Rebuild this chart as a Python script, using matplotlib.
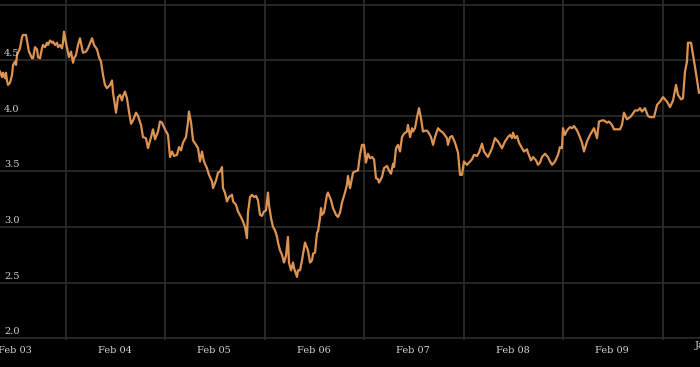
import matplotlib
matplotlib.use("Agg")
import matplotlib.pyplot as plt

# decimal-year dates and values
dates = [
    2002.934, 2002.954, 2002.964, 2002.984, 2002.994, 2003.004, 2003.014, 2003.035, 2003.055, 2003.065,
    2003.085, 2003.095, 2003.105, 2003.115, 2003.135, 2003.155, 2003.165, 2003.195, 2003.205, 2003.225,
    2003.256, 2003.266, 2003.286, 2003.306, 2003.316, 2003.336, 2003.356, 2003.366, 2003.386, 2003.406,
    2003.416, 2003.437, 2003.457, 2003.467, 2003.487, 2003.507, 2003.517, 2003.537, 2003.557, 2003.567,
    2003.577, 2003.597, 2003.617, 2003.627, 2003.648, 2003.668, 2003.678, 2003.698, 2003.718, 2003.738,
    2003.758, 2003.768, 2003.798, 2003.818, 2003.849, 2003.859, 2003.879, 2003.909, 2003.929, 2003.949,
    2003.969, 2003.989, 2004.009, 2004.040, 2004.060, 2004.070, 2004.100, 2004.120, 2004.140, 2004.160,
    2004.170, 2004.190, 2004.210, 2004.230, 2004.251, 2004.271, 2004.301, 2004.321, 2004.351, 2004.371,
    2004.401, 2004.421, 2004.452, 2004.472, 2004.492, 2004.522, 2004.542, 2004.562, 2004.592, 2004.622,
    2004.643, 2004.663, 2004.683, 2004.713, 2004.733, 2004.753, 2004.773, 2004.803, 2004.823, 2004.833,
    2004.854, 2004.874,
    2004.904, 2004.924, 2004.944, 2004.964, 2004.984, 2005.014, 2005.034, 2005.065, 2005.075, 2005.105,
    2005.125, 2005.145, 2005.165, 2005.175, 2005.195, 2005.215, 2005.235, 2005.266, 2005.276, 2005.306,
    2005.326, 2005.356, 2005.376, 2005.396, 2005.416, 2005.426, 2005.447, 2005.467, 2005.487, 2005.507,
    2005.527, 2005.547, 2005.567, 2005.587, 2005.607, 2005.627, 2005.637, 2005.658, 2005.678, 2005.698,
    2005.718, 2005.728, 2005.748, 2005.768, 2005.788, 2005.808, 2005.828, 2005.838, 2005.859, 2005.879,
    2005.889, 2005.919,
    2005.929, 2005.949, 2005.969, 2005.999, 2006.029, 2006.050, 2006.070, 2006.080, 2006.100, 2006.120,
    2006.130, 2006.150, 2006.160, 2006.170, 2006.190, 2006.220, 2006.230, 2006.261, 2006.281, 2006.311,
    2006.331, 2006.351, 2006.371, 2006.401, 2006.421, 2006.431, 2006.452, 2006.472, 2006.482, 2006.502,
    2006.532, 2006.552, 2006.572, 2006.592, 2006.612, 2006.632, 2006.653, 2006.673, 2006.693, 2006.713,
    2006.733, 2006.743, 2006.773, 2006.793, 2006.823, 2006.843, 2006.864, 2006.884, 2006.894, 2006.914,
    2006.934, 2006.954, 2006.974, 2006.994,
    2007.024, 2007.034, 2007.055, 2007.075, 2007.085, 2007.105, 2007.125, 2007.145, 2007.165, 2007.185,
    2007.215, 2007.235, 2007.266, 2007.286, 2007.306, 2007.336, 2007.356, 2007.386, 2007.426, 2007.436,
    2007.457, 2007.477, 2007.507, 2007.537, 2007.557, 2007.577, 2007.597, 2007.627, 2007.647, 2007.678,
    2007.698, 2007.728, 2007.748, 2007.778, 2007.798, 2007.838, 2007.859, 2007.879, 2007.909, 2007.939,
    2007.979,
    2008.009, 2008.039, 2008.060, 2008.080, 2008.090, 2008.110, 2008.130, 2008.150, 2008.180, 2008.200,
    2008.230, 2008.240, 2008.271, 2008.291, 2008.321, 2008.341, 2008.361, 2008.381, 2008.411, 2008.441,
    2008.462, 2008.482, 2008.512, 2008.542, 2008.562, 2008.582, 2008.592, 2008.612, 2008.632, 2008.642,
    2008.663, 2008.683, 2008.703, 2008.733, 2008.753, 2008.783, 2008.803, 2008.833, 2008.864, 2008.884,
    2008.904, 2008.934, 2008.954, 2008.984,
    2009.004, 2009.034, 2009.054, 2009.084, 2009.104, 2009.135, 2009.165, 2009.185, 2009.205, 2009.235,
    2009.266, 2009.286, 2009.316, 2009.346, 2009.366, 2009.386, 2009.416, 2009.446, 2009.467, 2009.507,
    2009.537, 2009.567, 2009.597, 2009.637, 2009.668, 2009.698, 2009.728, 2009.748, 2009.778, 2009.798,
    2009.818, 2009.838, 2009.848, 2009.879, 2009.919, 2009.959,
]

values = [
    4.40, 4.35, 4.39, 4.34, 4.39, 4.32, 4.28, 4.30, 4.37, 4.46,
    4.49, 4.46, 4.55, 4.57, 4.61, 4.71, 4.73, 4.73, 4.68, 4.58,
    4.52, 4.52, 4.62, 4.60, 4.53, 4.52, 4.61, 4.64, 4.62, 4.66,
    4.64, 4.68, 4.66, 4.67, 4.64, 4.66, 4.62, 4.64, 4.61, 4.66,
    4.76, 4.66, 4.57, 4.53, 4.58, 4.48, 4.52, 4.55, 4.64, 4.70,
    4.61, 4.57, 4.58, 4.61, 4.68, 4.70, 4.64, 4.60, 4.53, 4.49,
    4.37, 4.28, 4.25, 4.28, 4.32, 4.21, 4.03, 4.17, 4.19, 4.14,
    4.18, 4.22, 4.16, 4.04, 3.93, 3.96, 4.03, 4.00, 3.92, 3.81,
    3.80, 3.71, 3.81, 3.88, 3.79, 3.86, 3.95, 3.94, 3.88, 3.83,
    3.63, 3.68, 3.64, 3.65, 3.72, 3.69, 3.76, 3.81, 3.94, 4.04,
    3.94, 3.78,
    3.74, 3.71, 3.59, 3.68, 3.59, 3.53, 3.47, 3.41, 3.35, 3.42,
    3.49, 3.50, 3.54, 3.35, 3.31, 3.23, 3.27, 3.29, 3.23, 3.20,
    3.14, 3.09, 3.05, 3.00, 2.90, 3.13, 3.27, 3.29, 3.27, 3.28,
    3.24, 3.11, 3.10, 3.14, 3.15, 3.31, 3.20, 3.08, 3.00, 2.97,
    2.91, 2.86, 2.79, 2.75, 2.68, 2.74, 2.91, 2.68, 2.61, 2.68,
    2.63, 2.55,
    2.61, 2.61, 2.70, 2.86, 2.79, 2.68, 2.70, 2.76, 2.77, 2.95,
    2.96, 3.08, 3.17, 3.11, 3.13, 3.29, 3.31, 3.24, 3.17, 3.11,
    3.09, 3.13, 3.22, 3.31, 3.38, 3.46, 3.35, 3.44, 3.49, 3.50,
    3.51, 3.65, 3.74, 3.74, 3.58, 3.66, 3.62, 3.63, 3.61, 3.44,
    3.43, 3.40, 3.45, 3.53, 3.55, 3.51, 3.48, 3.57, 3.54, 3.71,
    3.74, 3.68, 3.81, 3.84,
    3.86, 3.92, 3.81, 3.89, 3.86, 3.89, 3.99, 4.07, 3.98, 3.86,
    3.87, 3.86, 3.81, 3.74, 3.81, 3.89, 3.87, 3.85, 3.80, 3.74,
    3.81, 3.82, 3.76, 3.67, 3.47, 3.47, 3.59, 3.56, 3.58, 3.61,
    3.65, 3.64, 3.67, 3.75, 3.68, 3.63, 3.67, 3.71, 3.80, 3.77,
    3.71,
    3.77, 3.81, 3.83, 3.80, 3.85, 3.80, 3.82, 3.76, 3.71, 3.68,
    3.70, 3.67, 3.60, 3.63, 3.60, 3.56, 3.58, 3.63, 3.66, 3.63,
    3.59, 3.56, 3.59, 3.65, 3.72, 3.71, 3.89, 3.83, 3.87, 3.88,
    3.90, 3.89, 3.91, 3.87, 3.83, 3.76, 3.68, 3.77, 3.83, 3.86,
    3.89, 3.80, 3.95, 3.96,
    3.96, 3.94, 3.95, 3.92, 3.88, 3.88, 3.88, 3.92, 4.03, 3.97,
    3.99, 4.01, 4.05, 4.05, 4.07, 4.04, 4.07, 4.00, 3.99, 3.99,
    4.10, 4.13, 4.17, 4.13, 4.08, 4.14, 4.28, 4.19, 4.15, 4.16,
    4.40, 4.49, 4.66, 4.66, 4.44, 4.21,
]

tick_pos = [2003.085, 2004.085, 2005.085, 2006.085, 2007.085, 2008.085, 2009.085]
tick_labels = ["Feb 03", "Feb 04", "Feb 05", "Feb 06", "Feb 07", "Feb 08", "Feb 09"]
vgrid_pos = [2003.597, 2004.597, 2005.597, 2006.597, 2007.597, 2008.597, 2009.597]
hgrid_vals = [2.0, 2.5, 3.0, 3.5, 4.0, 4.5, 5.0]
ylabel_vals = [2.0, 2.5, 3.0, 3.5, 4.0, 4.5]
extra_label = "Jan 10"
extra_pos = 2010.08

FONT = "DejaVu Serif"
TXT = "#d4d4d4"
GRID = "#2d2d2d"
LINE = "#dd9352"

fig = plt.figure(figsize=(7.0, 3.67), dpi=100, facecolor="black")
ax = fig.add_axes([0.0, 27 / 367, 1.0, 340 / 367])
ax.set_facecolor("black")
for s in ax.spines.values():
    s.set_visible(False)

ax.set_xlim(2002.934, 2009.969)
ax.set_ylim(1.982, 5.045)

for v in hgrid_vals:
    ax.axhline(v, color=GRID, lw=1.2, zorder=1, clip_on=False)
for x in vgrid_pos:
    ax.axvline(x, color=GRID, lw=1.2, zorder=1)

ax.plot(dates, values, color=LINE, lw=1.6, zorder=3, solid_joinstyle="round")

ax.set_yticks([])
ax.set_xticks(tick_pos)
ax.set_xticklabels(tick_labels, fontfamily=FONT, fontsize=7, color=TXT)
ax.tick_params(axis="x", length=0, pad=4)

for v in ylabel_vals:
    ax.annotate(f"{v:.1f}", xy=(0, v), xycoords=("axes fraction", "data"),
                xytext=(4, 2), textcoords="offset pixels", ha="left", va="bottom",
                fontfamily=FONT, fontsize=7, color=TXT, zorder=4)

# partially visible final label at the right edge
ax.annotate(extra_label, xy=(extra_pos, 0), xycoords=("data", "axes fraction"),
            xytext=(0, -0.5), textcoords="offset points", ha="center", va="top",
            fontfamily=FONT, fontsize=7, color=TXT, annotation_clip=False)

fig.savefig("out.png", dpi=100, facecolor="black")
